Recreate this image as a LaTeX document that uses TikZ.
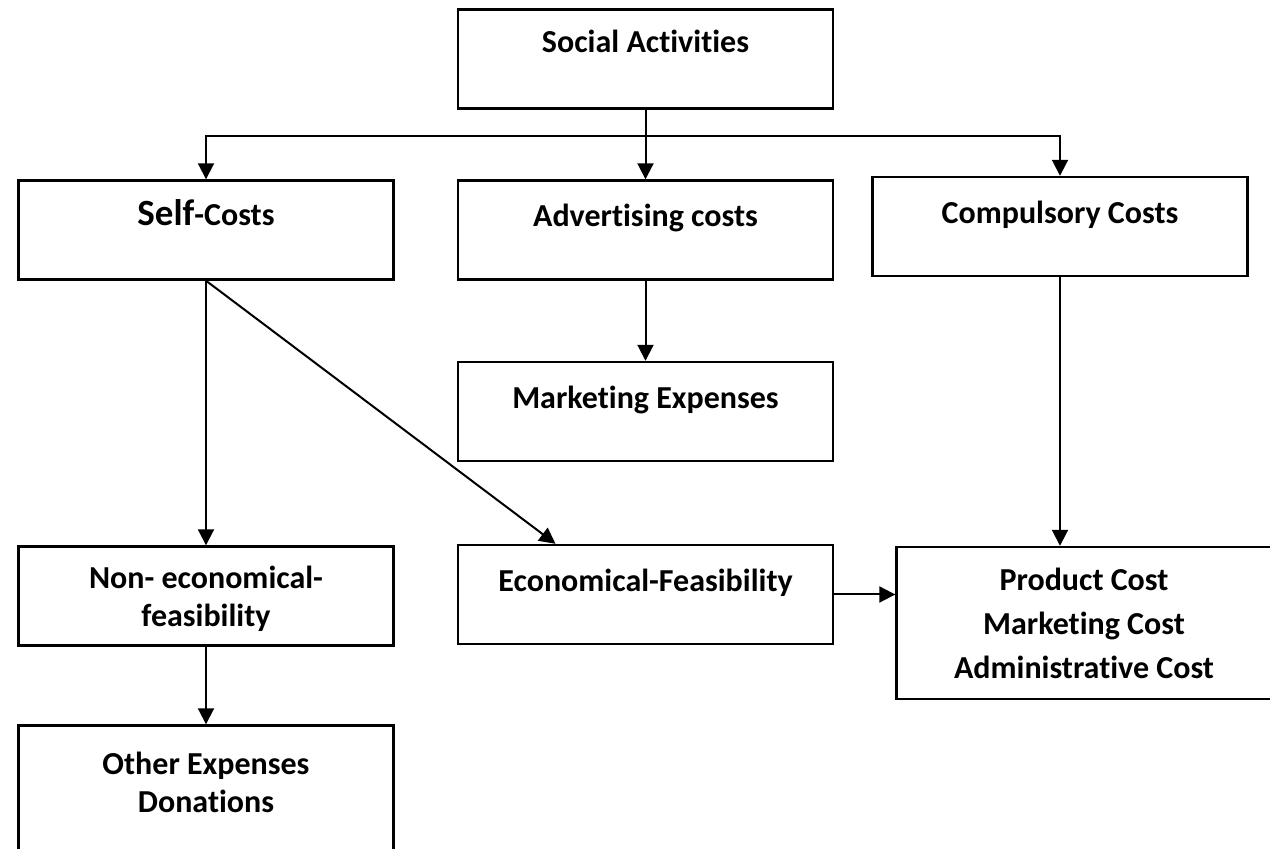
\documentclass[tikz,border=0pt]{standalone}
\usepackage{fontspec}
\setmainfont[Ligatures={NoCommon}]{Carlito}
\usetikzlibrary{shapes,arrows,arrows.meta}
\tikzstyle{block} = [rectangle, draw, line width=1.2pt, align=center, minimum width=187.5pt, minimum height=49.5pt, font=\bfseries\fontsize{16}{19}\selectfont]
\tikzstyle{onerow} = [text height=12pt, text depth=15pt]
\tikzstyle{line} = [draw, line width=1pt, -{Triangle[length=8pt,width=8pt]}]

\begin{document}
\begin{tikzpicture}
			\useasboundingbox (0,0) rectangle (635pt,-424.5pt);
			\clip (0,0) rectangle (635pt,-424.5pt);
			\node [block, onerow, text depth=18pt] (social) at (322.75pt,-29.5pt) {Social Activities};
			\node [block, onerow, below of=social, node distance=85.5pt] (adv) {Advertising costs};
			\node [block, onerow, text depth=16pt, left of=adv, node distance=219.75pt] (self) {{\fontsize{18.5}{19}\selectfont Self}-Costs};
			\node [block, onerow, right of=adv, node distance=207.25pt, yshift=1.75pt] (comp) {Compulsory Costs};
			\node [block, onerow, below of=adv, node distance=90.75pt] (mkt) {Marketing Expenses};
			\node [block, text depth=-2pt, below of=self, node distance=183pt] (nonecon) {Non- economical-\\feasibility};
			\node [block, minimum height=76pt, below of=nonecon, node distance=102.75pt] (other) {Other Expenses\\Donations\\ \mbox{}};
			\node [block, onerow, below of=mkt, node distance=91.5pt] (econ) {Economical-Feasibility};
			\node [block, minimum height=76pt, font=\bfseries\fontsize{16}{22}\selectfont, below of=comp, node distance=198.25pt, xshift=12pt] (prod) {Product Cost\\Marketing Cost\\Administrative Cost};
			\coordinate [below of=social, node distance=38.5pt] (fork);
			\path [line] (social) -- (adv);
			\path [line] (fork) -| (self);
			\path [line] (fork) -| (comp);
			\path [line] (adv) -- (mkt);
			\path [line] (self) -- (nonecon);
			\path [line] (nonecon) -- (other);
			\path [line] (self.south) -- ([xshift=-45pt]econ.north);
			\path [line] (econ.east) -- (econ.east -| prod.west);
			\path [line] (comp.south) -- (comp.south |- prod.north);
\end{tikzpicture}
\end{document}
